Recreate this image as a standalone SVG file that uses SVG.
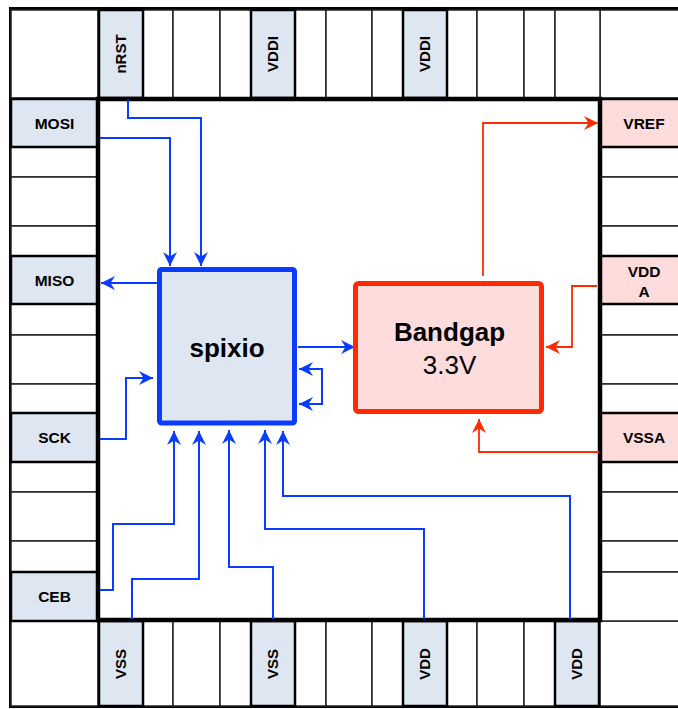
<svg xmlns="http://www.w3.org/2000/svg" width="678" height="709" viewBox="0 0 678 709">
<style>
.cell{fill:#fff;stroke:#222;stroke-width:1.5}
.pb{fill:#dde6f1;stroke:#000;stroke-width:2.5}
.pr{fill:#ffdcdc;stroke:#000;stroke-width:2.5}
.lbl{font-family:"Liberation Sans",Arial,sans-serif;font-weight:bold;font-size:15.5px;fill:#000;text-anchor:middle}
.vl{font-family:"Liberation Sans",Arial,sans-serif;font-weight:bold;font-size:15px;fill:#000;text-anchor:middle}
.wb{fill:none;stroke:#0a3cff;stroke-width:2}
.wr{fill:none;stroke:#ff2a00;stroke-width:1.8}
</style>
<defs>
<marker id="ab" markerUnits="userSpaceOnUse" markerWidth="16" markerHeight="16" viewBox="-15 -8 16 16" refX="0" refY="0" orient="auto"><path d="M0,0 L-14,-7 L-9.5,0 L-14,7 Z" fill="#0a3cff"/></marker>
<marker id="abs" markerUnits="userSpaceOnUse" markerWidth="16" markerHeight="16" viewBox="-15 -8 16 16" refX="0" refY="0" orient="auto-start-reverse"><path d="M0,0 L-14,-7 L-9.5,0 L-14,7 Z" fill="#0a3cff"/></marker>
<marker id="ar" markerUnits="userSpaceOnUse" markerWidth="16" markerHeight="16" viewBox="-15 -8 16 16" refX="0" refY="0" orient="auto"><path d="M0,0 L-14,-7 L-9.5,0 L-14,7 Z" fill="#ff2a00"/></marker>
</defs>
<rect x="0" y="0" width="678" height="709" fill="#fff"/>
<rect x="10.5" y="8.5" width="690" height="698" fill="#fff" stroke="#000" stroke-width="3"/>
<g id="ring">
<!-- corners -->
<rect class="cell" x="11" y="10" width="87" height="88"/>
<rect class="cell" x="600" y="10" width="90" height="88"/>
<rect class="cell" x="11" y="621" width="87" height="85"/>
<rect class="cell" x="600" y="621" width="90" height="85"/>
<!-- top whites -->
<rect class="cell" x="143" y="10" width="30" height="88"/>
<rect class="cell" x="173" y="10" width="47" height="88"/>
<rect class="cell" x="220" y="10" width="31" height="88"/>
<rect class="cell" x="295" y="10" width="31" height="88"/>
<rect class="cell" x="326" y="10" width="46" height="88"/>
<rect class="cell" x="372" y="10" width="31" height="88"/>
<rect class="cell" x="447" y="10" width="30" height="88"/>
<rect class="cell" x="477" y="10" width="47" height="88"/>
<rect class="cell" x="524" y="10" width="31" height="88"/>
<rect class="cell" x="555" y="10" width="45" height="88"/>
<!-- bottom whites -->
<rect class="cell" x="143" y="621" width="30" height="85"/>
<rect class="cell" x="173" y="621" width="47" height="85"/>
<rect class="cell" x="220" y="621" width="31" height="85"/>
<rect class="cell" x="295" y="621" width="31" height="85"/>
<rect class="cell" x="326" y="621" width="46" height="85"/>
<rect class="cell" x="372" y="621" width="31" height="85"/>
<rect class="cell" x="447" y="621" width="30" height="85"/>
<rect class="cell" x="477" y="621" width="47" height="85"/>
<rect class="cell" x="524" y="621" width="31" height="85"/>
<!-- left whites -->
<rect class="cell" x="11" y="147" width="87" height="30"/>
<rect class="cell" x="11" y="177" width="87" height="49"/>
<rect class="cell" x="11" y="226" width="87" height="30"/>
<rect class="cell" x="11" y="304" width="87" height="31"/>
<rect class="cell" x="11" y="335" width="87" height="49"/>
<rect class="cell" x="11" y="384" width="87" height="29"/>
<rect class="cell" x="11" y="462" width="87" height="30"/>
<rect class="cell" x="11" y="492" width="87" height="49"/>
<rect class="cell" x="11" y="541" width="87" height="31"/>
<!-- right whites -->
<rect class="cell" x="600" y="147" width="90" height="30"/>
<rect class="cell" x="600" y="177" width="90" height="49"/>
<rect class="cell" x="600" y="226" width="90" height="30"/>
<rect class="cell" x="600" y="304" width="90" height="31"/>
<rect class="cell" x="600" y="335" width="90" height="49"/>
<rect class="cell" x="600" y="384" width="90" height="29"/>
<rect class="cell" x="600" y="462" width="90" height="30"/>
<rect class="cell" x="600" y="492" width="90" height="49"/>
<rect class="cell" x="600" y="541" width="90" height="31"/>
<rect class="cell" x="600" y="572" width="90" height="49"/>
</g>
<g id="pad-nRST"><rect class="pb" x="99" y="10" width="44" height="88"/><text class="vl" transform="translate(121,54) rotate(-90)" y="5.4">nRST</text></g>
<g id="pad-VDDI-1"><rect class="pb" x="251" y="10" width="44" height="88"/><text class="vl" transform="translate(273,54) rotate(-90)" y="5.4">VDDI</text></g>
<g id="pad-VDDI-2"><rect class="pb" x="403" y="10" width="44" height="88"/><text class="vl" transform="translate(425,54) rotate(-90)" y="5.4">VDDI</text></g>
<g id="pad-VSS-1"><rect class="pb" x="99" y="621" width="44" height="85"/><text class="vl" transform="translate(121,664) rotate(-90)" y="5.4">VSS</text></g>
<g id="pad-VSS-2"><rect class="pb" x="251" y="621" width="44" height="85"/><text class="vl" transform="translate(273,664) rotate(-90)" y="5.4">VSS</text></g>
<g id="pad-VDD-1"><rect class="pb" x="403" y="621" width="44" height="85"/><text class="vl" transform="translate(425,664) rotate(-90)" y="5.4">VDD</text></g>
<g id="pad-VDD-2"><rect class="pb" x="555" y="621" width="44" height="85"/><text class="vl" transform="translate(577,664) rotate(-90)" y="5.4">VDD</text></g>
<g id="pad-MOSI"><rect class="pb" x="11" y="99" width="87" height="48"/><text class="lbl" x="54.5" y="128.6">MOSI</text></g>
<g id="pad-MISO"><rect class="pb" x="11" y="256" width="87" height="48"/><text class="lbl" x="54.5" y="285.6">MISO</text></g>
<g id="pad-SCK"><rect class="pb" x="11" y="413" width="87" height="49"/><text class="lbl" x="54.5" y="443">SCK</text></g>
<g id="pad-CEB"><rect class="pb" x="11" y="572" width="87" height="49"/><text class="lbl" x="54.5" y="602">CEB</text></g>
<g id="pad-VREF"><rect class="pr" x="600" y="99" width="90" height="48"/><text class="lbl" x="644" y="128.6">VREF</text></g>
<g id="pad-VDDA"><rect class="pr" x="600" y="256" width="90" height="48"/><text class="lbl" x="644" y="277.3">VDD</text><text class="lbl" x="644" y="296.7">A</text></g>
<g id="pad-VSSA"><rect class="pr" x="600" y="413" width="90" height="49"/><text class="lbl" x="644" y="443">VSSA</text></g>
<rect id="core" x="98" y="99" width="502" height="521" fill="#fff" stroke="#000" stroke-width="4.5"/>
<g id="connectors">
<path class="wb" d="M128,100 V118 H201 V266" marker-end="url(#ab)"/>
<path class="wb" d="M100,138 H170 V266" marker-end="url(#ab)"/>
<path class="wb" d="M157,283 H101" marker-end="url(#ab)"/>
<path class="wb" d="M100,439 H126 V378 H153" marker-end="url(#ab)"/>
<path class="wb" d="M100,590 H113 V524 H174 V431" marker-end="url(#ab)"/>
<path class="wb" d="M132,619 V579 H199 V431" marker-end="url(#ab)"/>
<path class="wb" d="M273,619 V567 H229 V430" marker-end="url(#ab)"/>
<path class="wb" d="M424,619 V529 H265 V430" marker-end="url(#ab)"/>
<path class="wb" d="M570,619 V496 H283 V431" marker-end="url(#ab)"/>
<path class="wb" d="M298,347 H355" marker-end="url(#ab)"/>
<path class="wb" d="M299,369 H322 V404 H299" marker-start="url(#abs)" marker-end="url(#ab)"/>
<path class="wr" d="M483,276 V123 H598" marker-end="url(#ar)"/>
<path class="wr" d="M597,286 H572 V347 H546" marker-end="url(#ar)"/>
<path class="wr" d="M599,452 H479 V419" marker-end="url(#ar)"/>
</g>
<g id="spixio">
<rect x="159.5" y="269.5" width="135" height="153.5" rx="2" fill="#dde6f1" stroke="#0a3cff" stroke-width="5"/>
<text x="227" y="357" font-family="'Liberation Sans',Arial,sans-serif" font-weight="bold" font-size="26" text-anchor="middle">spixio</text>
</g>
<g id="bandgap">
<rect x="355.5" y="283.5" width="186" height="128" rx="3" fill="#ffdcdc" stroke="#ff2a00" stroke-width="5"/>
<text x="449.5" y="341" font-family="'Liberation Sans',Arial,sans-serif" font-weight="bold" font-size="26" text-anchor="middle">Bandgap</text>
<text x="449.5" y="374" font-family="'Liberation Sans',Arial,sans-serif" font-size="26" text-anchor="middle">3.3V</text>
</g>
</svg>
